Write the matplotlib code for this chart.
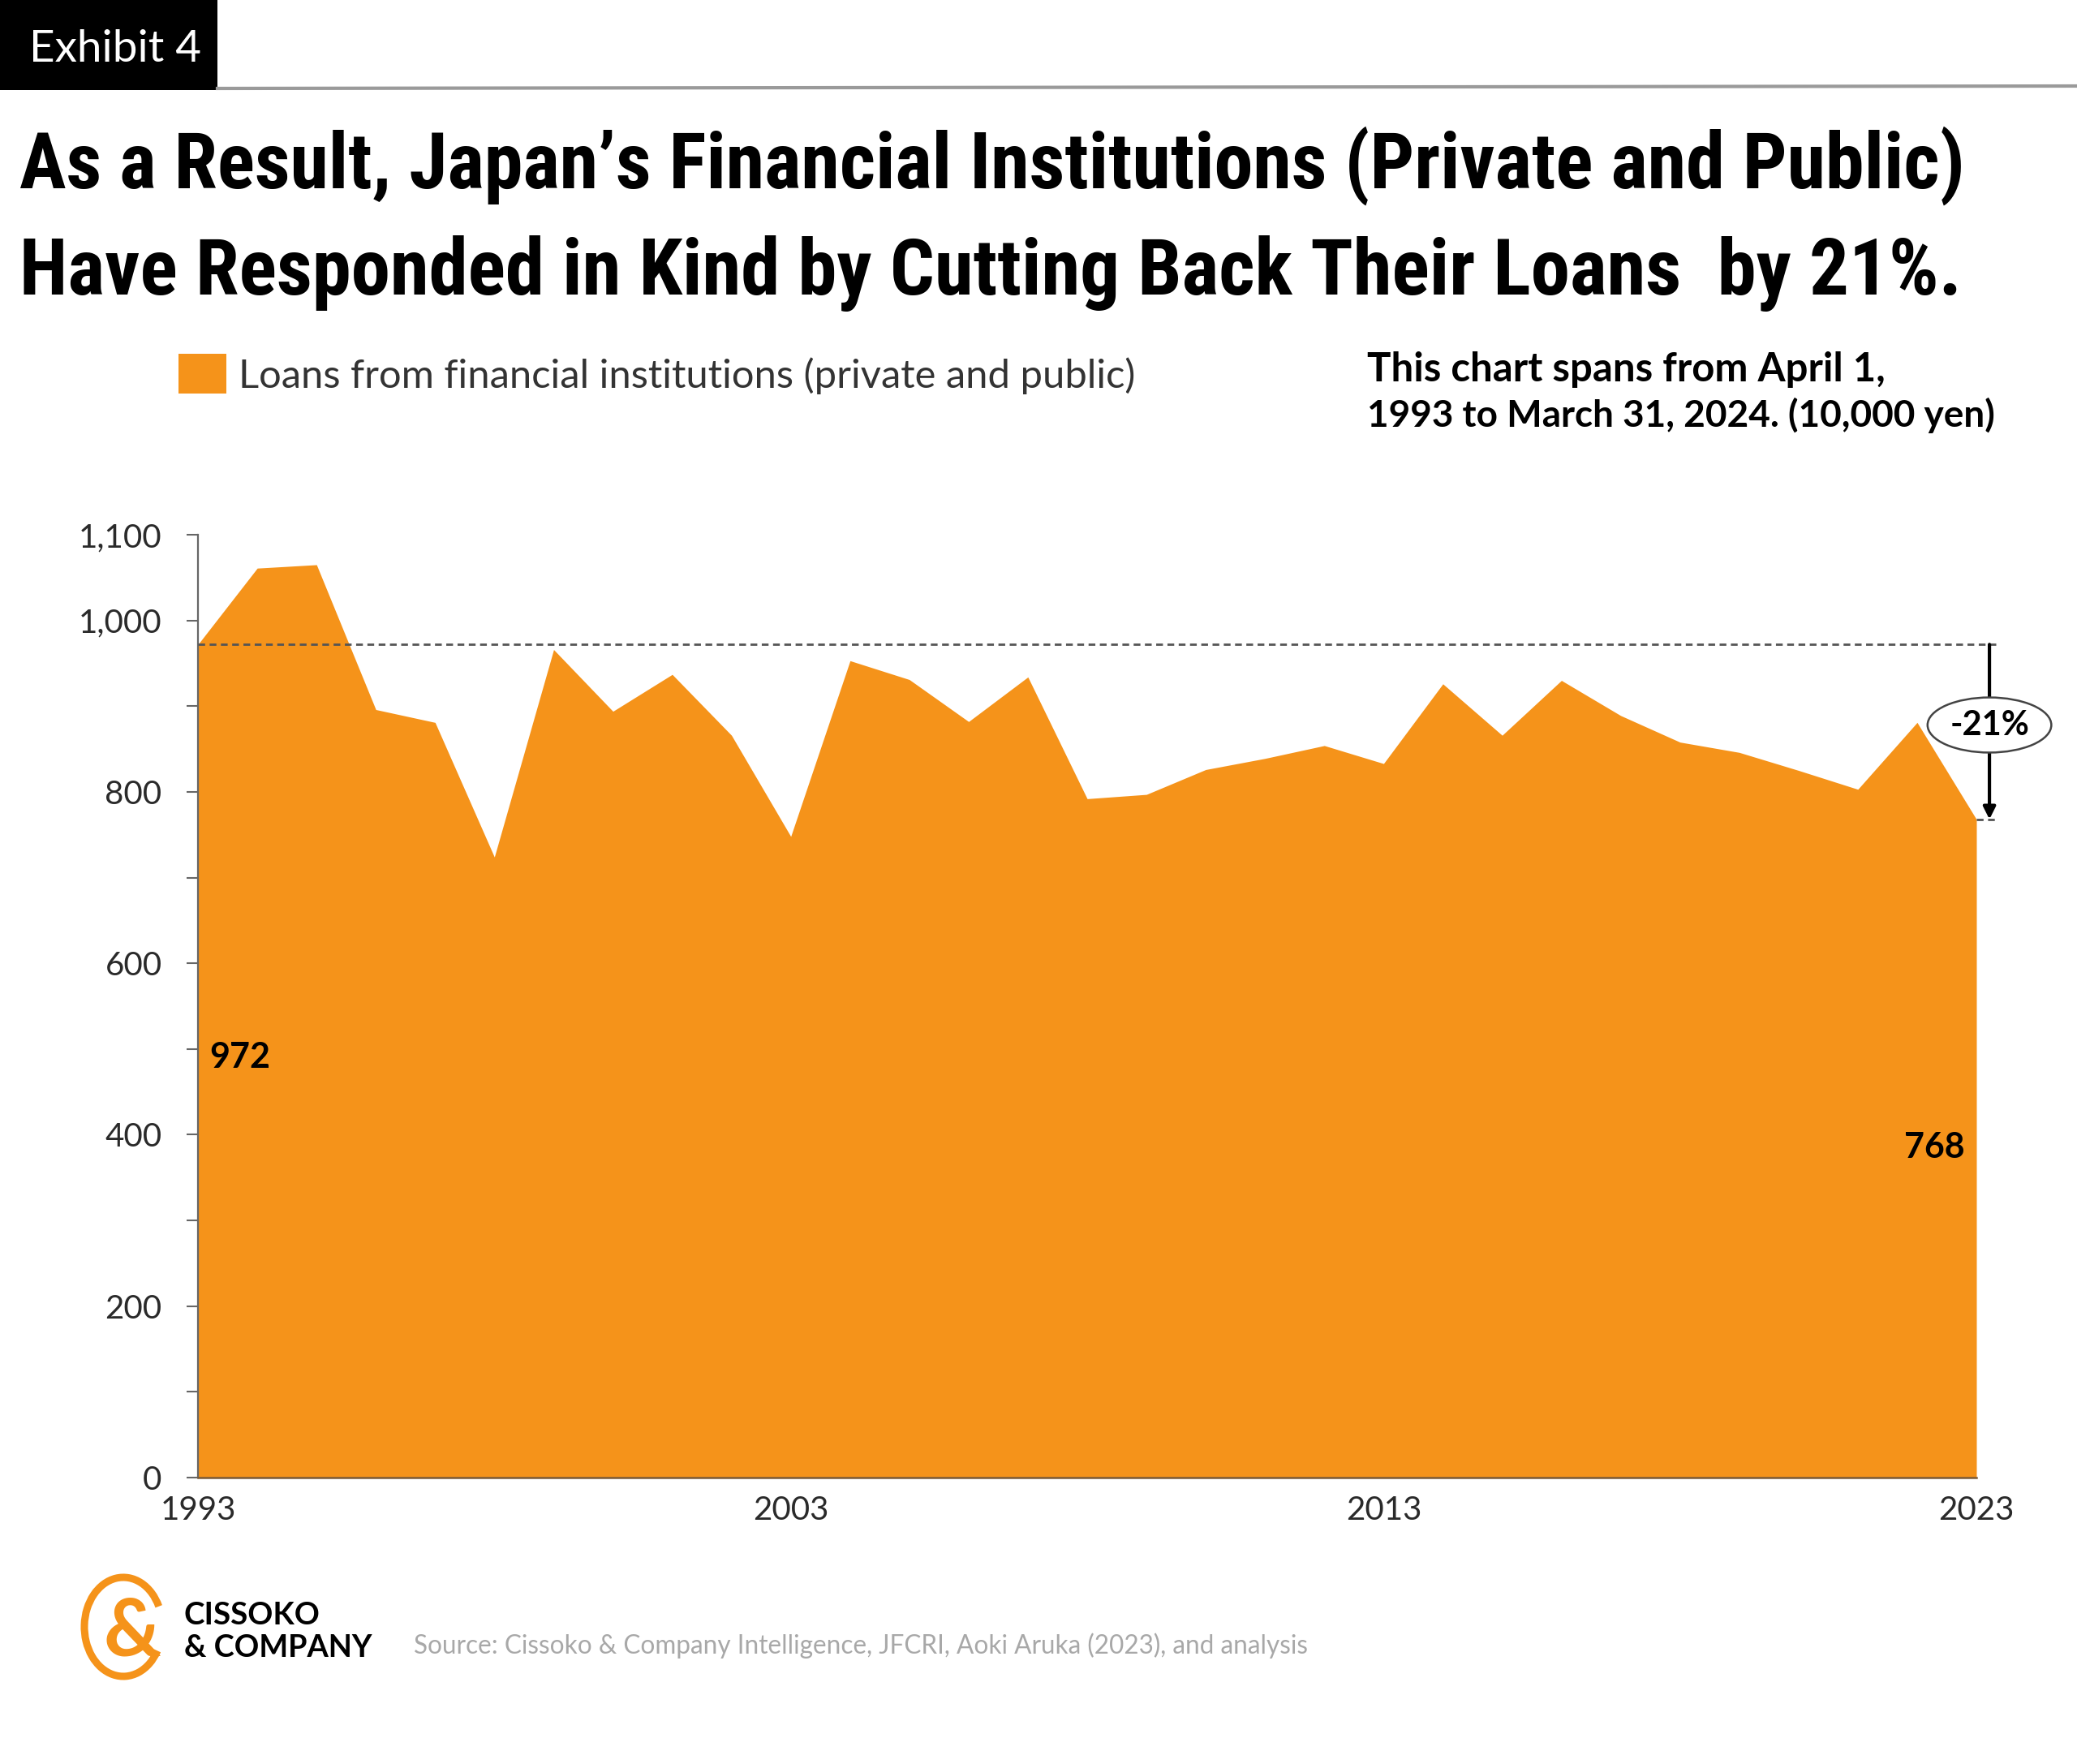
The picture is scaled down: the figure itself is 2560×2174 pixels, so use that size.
import matplotlib
matplotlib.use("Agg")
import matplotlib.pyplot as plt
from matplotlib import font_manager as fm
from matplotlib.patches import Rectangle, Arc

# ---------------- data ----------------
years = list(range(1993, 2024))
loans = [972, 1061, 1065, 896, 881, 724, 966, 894, 937, 866,
         748, 953, 931, 882, 934, 792, 797, 826, 839, 854,
         833, 926, 866, 930, 889, 858, 846, 825, 803, 881, 768]
y_ticks = [0, 200, 400, 600, 800, 1000, 1100]
y_tick_labels = ["0", "200", "400", "600", "800", "1,000", "1,100"]
y_minor_ticks = [100, 300, 500, 700, 900]
x_ticks = [1993, 2003, 2013, 2023]
x_tick_labels = ["1993", "2003", "2013", "2023"]
start_value = 972
end_value = 768
change_label = "-21%"

title_lines = ["As a Result, Japan\u2019s Financial Institutions (Private and Public)",
               "Have Responded in Kind by Cutting Back Their Loans  by 21%."]
legend_label = "Loans from financial institutions (private and public)"
note_lines = ["This chart spans from April 1,",
              "1993 to March 31, 2024. (10,000 yen)"]
source_text = "Source: Cissoko & Company Intelligence, JFCRI, Aoki Aruka (2023), and analysis"

ORANGE = "#F5931A"


def pick(cands):
    for c in cands:
        try:
            fm.findfont(fm.FontProperties(family=c), fallback_to_default=False)
            return c
        except Exception:
            pass
    return "DejaVu Sans"


TITLE_FONT = pick(["Liberation Sans Narrow", "Roboto Condensed", "Lato", "DejaVu Sans"])
BODY_FONT = pick(["Lato", "Open Sans", "DejaVu Sans"])

W, H = 2560, 2174
fig = plt.figure(figsize=(W / 100, H / 100), dpi=100)
fig.patch.set_facecolor("white")

ov = fig.add_axes([0, 0, 1, 1])
ov.set_xlim(0, W)
ov.set_ylim(H, 0)
ov.axis("off")
ov.patch.set_alpha(0)

renderer = fig.canvas.get_renderer()


def fit(t, target):
    for _ in range(3):
        bb = t.get_window_extent(renderer)
        if bb.width > 0:
            t.set_fontsize(t.get_fontsize() * target / bb.width)


# header
ov.add_patch(Rectangle((0, 0), 268, 111, color="black", lw=0))
t = ov.text(142, 60, "Exhibit 4", color="white", ha="center", va="center",
            family=BODY_FONT, weight="normal", fontsize=46)
fit(t, 212)
ov.plot([268, W], [109, 106], color="#9a9a9a", lw=3)

title_texts = []
for line, base in zip(title_lines, [232, 363]):
    title_texts.append(ov.text(24, base, line, ha="left", va="baseline", family=TITLE_FONT,
                               weight="bold", fontsize=70, color="black"))
fit(title_texts[0], 2398)
fit(title_texts[1], 2396)

# legend
ov.add_patch(Rectangle((220, 436), 59, 49, color=ORANGE, lw=0))
t = ov.text(294, 463, legend_label, ha="left", va="center", family=BODY_FONT,
            weight="normal", fontsize=36, color="#333333")
fit(t, 1106)

t = ov.text(1685, 456, note_lines[0], ha="left", va="center", family=BODY_FONT,
            weight="bold", fontsize=32, color="black")
fit(t, 640)
t = ov.text(1685, 512, note_lines[1], ha="left", va="center", family=BODY_FONT,
            weight="bold", fontsize=32, color="black")
fit(t, 776)

# footer
ov.add_patch(Arc((152, 2005), 96, 122, theta1=35, theta2=330, color=ORANGE, lw=6.5))
ov.text(163, 2012, "&", ha="center", va="center", family=BODY_FONT, weight="bold",
        fontsize=70, color=ORANGE)
t = ov.text(227, 1990, "CISSOKO", ha="left", va="center", family=BODY_FONT,
            weight="bold", fontsize=24, color="black")
fit(t, 168)
t = ov.text(227, 2031, "& COMPANY", ha="left", va="center", family=BODY_FONT,
            weight="bold", fontsize=24, color="black")
fit(t, 231)
t = ov.text(510, 2028, source_text, ha="left", va="center", family=BODY_FONT,
            weight="normal", fontsize=28, color="#a8a8a8")
fit(t, 1100)

# ---------------- chart ----------------
ax = fig.add_axes([244 / W, 1 - 1821 / H, 2192 / W, (1821 - 659) / H])
ax.set_facecolor("none")
ax.fill_between(years, loans, 0, color=ORANGE, lw=0, zorder=1)
ax.set_xlim(years[0], years[-1])
ax.set_ylim(0, 1100)
for s in ["top", "right"]:
    ax.spines[s].set_visible(False)
ax.spines["left"].set_color("#666666")
ax.spines["left"].set_linewidth(1.6)
ax.spines["bottom"].set_color("#7a5a36")
ax.spines["bottom"].set_linewidth(1.8)

ax.set_yticks(y_ticks)
ax.set_yticklabels(y_tick_labels)
ax.set_yticks(y_minor_ticks, minor=True)
ax.set_xticks(x_ticks)
ax.set_xticklabels(x_tick_labels)
ax.tick_params(axis="y", which="both", length=10, width=1.5, color="#666666", pad=22)
ax.tick_params(axis="x", length=0, pad=16)
for lab in ax.get_yticklabels() + ax.get_xticklabels():
    lab.set_family(BODY_FONT)
    lab.set_weight("normal")
    lab.set_fontsize(29)
    lab.set_color("#2a2a2a")

# reference dashed lines
x_end = years[-1] + 0.33
ax.plot([years[0], x_end], [start_value, start_value], color="#555555", lw=2,
        ls=(0, (3, 2)), clip_on=False, zorder=3)
ax.plot([years[-1], x_end], [end_value, end_value], color="#555555", lw=2,
        ls=(0, (3, 2)), clip_on=False, zorder=3)

x_arrow = years[-1] + 0.22
ax.annotate("", xy=(x_arrow, end_value), xytext=(x_arrow, start_value),
            arrowprops=dict(arrowstyle="-|>,head_length=0.9,head_width=0.45",
                            color="black", lw=3, shrinkA=0, shrinkB=0),
            annotation_clip=False, zorder=4)
ax.text(x_arrow, (start_value + end_value) / 2 + 8, change_label, ha="center",
        va="center", family=BODY_FONT, weight="bold", fontsize=30, color="black",
        bbox=dict(boxstyle="ellipse,pad=0.12", fc="white", ec="#444444", lw=1.8),
        clip_on=False, zorder=5)

ax.text(years[0] + 0.2, 490, str(start_value), ha="left", va="center",
        family=BODY_FONT, weight="bold", fontsize=31, color="black")
ax.text(years[-1] - 0.2, 385, str(end_value), ha="right", va="center",
        family=BODY_FONT, weight="bold", fontsize=31, color="black")

fig.savefig("out.png", dpi=100, facecolor="white")
